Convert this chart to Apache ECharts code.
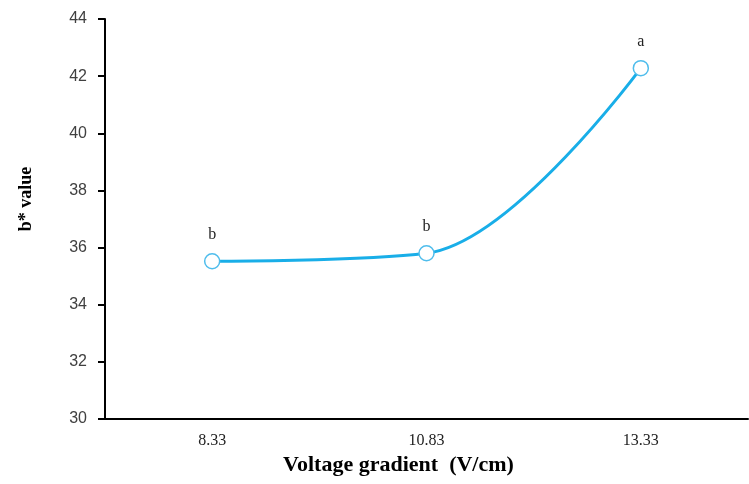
<!DOCTYPE html>
<html>
<head>
<meta charset="utf-8">
<script src="https://cdn.jsdelivr.net/npm/echarts@6/dist/echarts.min.js"></script>
<style>html,body{margin:0;padding:0;background:#fff}#chart{width:749px;height:484px}</style>
</head>
<body>
<div id="chart"></div>
<script>
// Voltage gradient levels (V/cm)
const categories = ['8.33', '10.83', '13.33'];
// Mean b* value at each gradient
const bValues = [35.52, 35.8, 42.28];
// Significance letters shown above each point
const letters = ['b', 'b', 'a'];

const chart = echarts.init(document.getElementById('chart'));
chart.setOption({
  animation: false,
  grid: { left: 105, top: 19, right: 1, bottom: 65, outerBoundsMode: 'none' },
  xAxis: {
    type: 'category',
    data: categories,
    boundaryGap: true,
    name: 'Voltage gradient  (V/cm)',
    nameLocation: 'middle',
    nameGap: 33,
    nameTextStyle: {
      fontFamily: 'Liberation Serif', fontWeight: 'bold', fontSize: 22, color: '#000',
      padding: [0, 56, 0, 0]
    },
    axisLine: { lineStyle: { color: '#000', width: 2 } },
    axisTick: { length: 5, lineStyle: { color: '#000', width: 2 } },
    axisLabel: { fontFamily: 'Liberation Serif', fontSize: 16, color: '#222', margin: 14 },
    splitLine: { show: false }
  },
  yAxis: {
    type: 'value',
    min: 30, max: 44, interval: 2,
    name: 'b* value',
    nameLocation: 'middle',
    nameGap: 70,
    nameTextStyle: {
      fontFamily: 'Liberation Serif', fontWeight: 'bold', fontSize: 18, color: '#000',
      padding: [0, 0, 0, 40]
    },
    axisLine: { show: true, lineStyle: { color: '#000', width: 2 } },
    axisTick: { show: true, length: 7, lineStyle: { color: '#000', width: 2 } },
    axisLabel: { fontFamily: 'Liberation Sans', fontSize: 16, color: '#404040', margin: 18 },
    splitLine: { show: false }
  },
  series: [{
    type: 'line',
    data: bValues,
    smooth: 0.35,
    symbol: 'circle',
    symbolSize: 15,
    lineStyle: { color: '#19aee8', width: 3 },
    itemStyle: { color: '#fff', borderColor: '#4fbdec', borderWidth: 1.5 },
    label: {
      show: true,
      position: 'top',
      distance: 10,
      fontFamily: 'Liberation Serif',
      fontSize: 16,
      color: '#222',
      formatter: p => letters[p.dataIndex]
    },
    z: 3
  }]
});
</script>
</body>
</html>
